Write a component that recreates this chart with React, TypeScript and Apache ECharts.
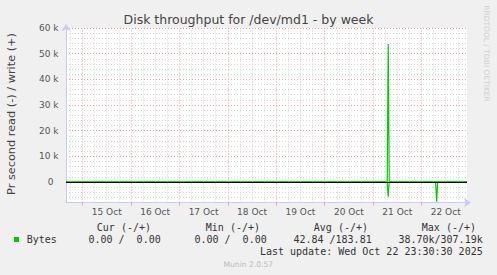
import React, { useEffect, useRef } from 'react';
import * as echarts from 'echarts';

const TITLE = 'Disk throughput for /dev/md1 - by week';
const Y_TITLE = 'Pr second read (-) / write (+)';
const WATERMARK = 'RRDTOOL / TOBI OETIKER';
const FOOTER = 'Munin 2.0.57';
const LAST_UPDATE = 'Last update: Wed Oct 22 23:30:30 2025';

// x values: hours since 15 Oct 00:00
const X_MIN = -8.18;
const X_MAX = 190.54;
const DAY_LABEL_HOURS = [12, 36, 60, 84, 108, 132, 156, 180];
const DAY_LABELS = ['15 Oct', '16 Oct', '17 Oct', '18 Oct', '19 Oct', '20 Oct', '21 Oct', '22 Oct'];
const MAJOR_GRID_HOURS = [0, 24, 48, 72, 96, 120, 144, 168];
const MINOR_GRID_HOURS = [-6, 6, 12, 18, 30, 36, 42, 54, 60, 66, 78, 84, 90, 102, 108, 114, 126, 132, 138, 150, 156, 162, 174, 180, 186];

const Y_MIN = -8000;
const Y_MAX = 60000;
const Y_STEP = 2000;

const WRITE_HOURS = [-8.18, 151.0, 151.5, 152.0, 190.54];
const WRITE_VALUES = [0, 0, 53800, 0, 0];
const READ_HOURS = [-8.18, 151.0, 151.5, 152.0, 175.0, 175.5, 176.0, 190.54];
const READ_VALUES = [0, 0, -5700, 0, 0, -7700, 0, 0];

const SERIES_NAME = 'Bytes';
const LEGEND_HEADERS = ['Cur (-/+)', 'Min (-/+)', 'Avg (-/+)', 'Max (-/+)'];
const LEGEND_VALUES = ['0.00 /  0.00', '0.00 /  0.00', '42.84 /183.81', '38.70k/307.19k'];

const GREEN = '#00cc00';
const MINOR_COLOR = '#d4d4d4';
const MAJOR_COLOR = '#e8a4a4';
const AXIS_COLOR = '#c4caff';
const MONO = '10px "DejaVu Sans Mono"';

export default function App() {
  const ref = useRef<HTMLDivElement>(null);
  useEffect(() => {
    if (!ref.current) return;
    const chart = echarts.init(ref.current, null, { renderer: 'svg' });
    const headerRight = [151, 260, 368, 476];
    const valueRight = [160.7, 266.7, 371.7, 482.7];
    const graphic: any[] = [
      { type: 'text', x: 248.5, y: 19.5, style: { text: TITLE, textAlign: 'center', textVerticalAlign: 'middle', font: '12.5px "DejaVu Sans"', fill: '#444' } },
      { type: 'text', x: 11.5, y: 114, rotation: Math.PI / 2, style: { text: Y_TITLE, textAlign: 'center', textVerticalAlign: 'middle', font: '11.3px "DejaVu Sans"', fill: '#444' } },
      { type: 'text', x: 486, y: 53.5, rotation: -Math.PI / 2, style: { text: WATERMARK, textAlign: 'center', textVerticalAlign: 'middle', font: '7.5px "DejaVu Sans"', fill: '#d0d0d0' } },
      { type: 'rect', shape: { x: 14, y: 237, width: 5, height: 5 }, style: { fill: GREEN } },
      { type: 'text', x: 26.7, y: 239.3, style: { text: SERIES_NAME, textAlign: 'left', textVerticalAlign: 'middle', font: MONO, fill: '#333' } },
      { type: 'text', x: 482.7, y: 251.7, style: { text: LAST_UPDATE, textAlign: 'right', textVerticalAlign: 'middle', font: MONO, fill: '#333' } },
      { type: 'text', x: 248.3, y: 264.3, style: { text: FOOTER, textAlign: 'center', textVerticalAlign: 'middle', font: '7.6px "DejaVu Sans"', fill: '#bbbbbb' } },
    ];
    LEGEND_HEADERS.forEach((h, i) => {
      graphic.push({ type: 'text', x: headerRight[i], y: 227.7, style: { text: h, textAlign: 'right', textVerticalAlign: 'middle', font: MONO, fill: '#333' } });
    });
    LEGEND_VALUES.forEach((v, i) => {
      graphic.push({ type: 'text', x: valueRight[i], y: 239.3, style: { text: v, textAlign: 'right', textVerticalAlign: 'middle', font: MONO, fill: '#333' } });
    });

    const vLines = [
      ...MINOR_GRID_HOURS.map((h) => ({ xAxis: h, lineStyle: { color: MINOR_COLOR, type: [1, 2], width: 1 } })),
      ...MAJOR_GRID_HOURS.map((h) => ({ xAxis: h, lineStyle: { color: MAJOR_COLOR, type: [1, 2], width: 1 } })),
    ];

    chart.setOption({
      animation: false,
      backgroundColor: '#f0f0f0',
      graphic,
      grid: { left: 66, right: 30, top: 28, bottom: 72.5, containLabel: false, show: true, backgroundColor: '#ffffff', borderWidth: 0 },
      xAxis: {
        type: 'value',
        min: X_MIN,
        max: X_MAX,
        splitLine: { show: false },
        axisLine: { onZero: false, lineStyle: { color: AXIS_COLOR, width: 1 }, symbol: ['none', 'arrow'], symbolSize: [7, 7], symbolOffset: [0, 4] },
        axisTick: { show: true, customValues: MAJOR_GRID_HOURS, length: 3, lineStyle: { color: MAJOR_COLOR } },
        axisLabel: {
          customValues: DAY_LABEL_HOURS,
          formatter: (v: number) => {
            const i = DAY_LABEL_HOURS.indexOf(Math.round(v));
            return i >= 0 ? DAY_LABELS[i] : '';
          },
          fontSize: 9,
          fontFamily: 'DejaVu Sans',
          color: '#555',
          margin: 5,
        },
      },
      yAxis: {
        type: 'value',
        min: Y_MIN,
        max: Y_MAX,
        interval: Y_STEP,
        axisLine: { show: true, onZero: false, lineStyle: { color: AXIS_COLOR, width: 1 }, symbol: ['none', 'arrow'], symbolSize: [7, 7], symbolOffset: [0, 4] },
        axisTick: { show: false },
        splitLine: { show: true, lineStyle: { color: [MINOR_COLOR, MINOR_COLOR, MINOR_COLOR, MINOR_COLOR, MAJOR_COLOR], type: [1, 2], width: 1 } },
        axisLabel: {
          formatter: (v: number) => {
            if (v === 0) return '{z|0}';
            if (v > 0 && v % 10000 === 0) return v / 1000 + ' k';
            return '';
          },
          rich: { z: { padding: [0, 5, 0, 0], fontSize: 9, fontFamily: 'DejaVu Sans', color: '#555' } },
          fontSize: 9,
          fontFamily: 'DejaVu Sans',
          color: '#555',
          margin: 7.5,
        },
      },
      series: [
        {
          type: 'line',
          name: 'grid',
          data: [[X_MIN, Y_MIN]],
          showSymbol: false,
          lineStyle: { width: 0 },
          z: 1,
          silent: true,
          markLine: { silent: true, symbol: 'none', label: { show: false }, data: vLines },
        },
        {
          type: 'line',
          name: 'read',
          data: READ_HOURS.map((h, i) => [h, READ_VALUES[i]]),
          showSymbol: false,
          lineStyle: { color: GREEN, width: 1.2 },
          z: 3,
        },
        {
          type: 'line',
          name: 'write',
          data: WRITE_HOURS.map((h, i) => [h, WRITE_VALUES[i]]),
          showSymbol: false,
          lineStyle: { color: GREEN, width: 1.2 },
          z: 3,
          markLine: { silent: true, symbol: 'none', label: { show: false }, data: [{ yAxis: 0, lineStyle: { color: '#000', type: 'solid', width: 1.2 } }] },
        },
      ],
    });
    return () => chart.dispose();
  }, []);
  return <div ref={ref} style={{ position: 'absolute', left: 0, top: 0, width: 497, height: 275 }} />;
}
